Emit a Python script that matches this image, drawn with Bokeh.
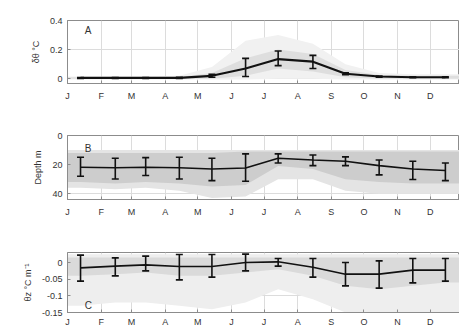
from bokeh.plotting import figure
from bokeh.models import Range1d, FixedTicker, Label
from bokeh.layouts import column
from bokeh.embed import file_html
from bokeh.resources import INLINE

# ---- data ----
month_ticks = [0, 31, 59, 90, 120, 151, 181, 212, 243, 273, 304, 334]
month_labels = ["J", "F", "M", "A", "M", "J", "J", "A", "S", "O", "N", "D"]
mid_days = [12, 44, 72, 103, 133, 164, 194, 226, 256, 287, 318, 348]
year_end = 361

# Panel A: dtheta (degC)
a_mean = [0.005, 0.005, 0.005, 0.006, 0.02, 0.07, 0.135, 0.117, 0.034, 0.015, 0.01, 0.01]
a_lo = [0.002, 0.002, 0.002, 0.002, 0.01, 0.015, 0.09, 0.07, 0.027, 0.011, 0.007, 0.007]
a_hi = [0.008, 0.008, 0.008, 0.01, 0.03, 0.14, 0.19, 0.16, 0.041, 0.019, 0.013, 0.013]
a_out_lo = [-0.005, -0.005, -0.005, -0.005, -0.005, -0.005, 0.0, 0.0, -0.005, -0.005, -0.005, -0.005]
a_out_hi = [0.015, 0.015, 0.015, 0.02, 0.08, 0.26, 0.30, 0.24, 0.10, 0.04, 0.03, 0.03]
a_in_lo = [0.0, 0.0, 0.0, 0.0, 0.0, 0.02, 0.07, 0.05, 0.01, 0.0, 0.0, 0.0]
a_in_hi = [0.01, 0.01, 0.01, 0.012, 0.04, 0.14, 0.20, 0.17, 0.06, 0.025, 0.02, 0.02]

# Panel B: depth (m)
b_mean = [21.8, 22.2, 21.8, 22.2, 23.0, 22.3, 15.6, 16.8, 17.7, 20.7, 23.0, 24.1]
b_lo = [15.0, 15.6, 15.2, 15.0, 15.6, 12.6, 12.6, 13.4, 14.7, 16.8, 17.7, 18.9]
b_hi = [28.0, 29.9, 27.5, 29.9, 31.0, 31.5, 18.9, 20.7, 20.7, 27.1, 30.3, 31.0]
b_out_lo = [10, 10, 10, 10, 10, 10, 10, 10, 10, 10, 10, 10]
b_out_hi = [36, 37, 36, 38, 43, 42, 30, 30, 38, 40, 40, 40]
b_in_lo = [12, 12, 12, 12, 12, 11, 11, 11, 11, 11, 11, 11]
b_in_hi = [32, 33, 32, 33, 35, 34, 21, 23, 30, 32, 33, 33]

# Panel C: theta_z (degC/m)
c_mean = [-0.016, -0.011, -0.007, -0.012, -0.012, 0.0, 0.002, -0.014, -0.035, -0.035, -0.023, -0.023]
c_lo = [-0.056, -0.04, -0.025, -0.052, -0.044, -0.025, -0.011, -0.044, -0.07, -0.077, -0.061, -0.056]
c_hi = [0.022, 0.014, 0.019, 0.024, 0.024, 0.025, 0.012, 0.012, 0.0, 0.005, 0.012, 0.012]
c_out_lo = [-0.13, -0.12, -0.12, -0.13, -0.14, -0.12, -0.08, -0.11, -0.15, -0.15, -0.15, -0.15]
c_out_hi = [0.025] * 12
c_in_lo = [-0.04, -0.035, -0.03, -0.04, -0.04, -0.03, -0.02, -0.04, -0.07, -0.08, -0.07, -0.06]
c_in_hi = [0.015] * 12

FONT = "Liberation Sans"
TXT = "#333333"
INK = "#111111"


def ext(vals):
    return [vals[0]] + list(vals) + [vals[-1]]


band_x = [0] + mid_days + [year_end]


def panel(height, btop, bbot, yr, yticks, ylabels, ylabel, letter, letter_y,
          mean, lo, hi, bands, lw, xstandoff=7):
    p = figure(width=459, height=height, x_range=Range1d(0, year_end), y_range=yr,
               output_backend="svg", toolbar_location=None,
               min_border_left=67, min_border_right=0,
               min_border_top=btop, min_border_bottom=bbot)
    p.background_fill_color = "white"
    p.outline_line_color = "#8c8c8c"
    for (l, u, col) in bands:
        p.varea(x=band_x, y1=ext(l), y2=ext(u), fill_color=col, fill_alpha=1.0)
    p.line(mid_days, mean, line_color=INK, line_width=lw)
    p.segment(x0=mid_days, y0=lo, x1=mid_days, y1=hi, line_color=INK, line_width=1.6)
    p.scatter(x=mid_days + mid_days, y=list(lo) + list(hi), marker="dash", size=7,
              line_color=INK, line_width=1.6)
    p.xaxis.ticker = FixedTicker(ticks=month_ticks)
    p.xaxis.major_label_overrides = {t: s for t, s in zip(month_ticks, month_labels)}
    p.yaxis.ticker = FixedTicker(ticks=yticks)
    p.yaxis.major_label_overrides = {t: s for t, s in zip(yticks, ylabels)}
    for ax in (p.xaxis[0], p.yaxis[0]):
        ax.axis_line_color = "#8c8c8c"
        ax.major_tick_line_color = "#8c8c8c"
        ax.major_tick_in = 3
        ax.major_tick_out = 0
        ax.minor_tick_line_color = None
        ax.major_label_text_font = FONT
        ax.major_label_text_font_size = "9px"
        ax.major_label_text_color = TXT
    p.xaxis.major_label_standoff = xstandoff
    p.yaxis.major_label_standoff = 5
    p.yaxis.axis_label = ylabel
    p.yaxis.axis_label_text_font = FONT
    p.yaxis.axis_label_text_font_size = "9px"
    p.yaxis.axis_label_text_font_style = "normal"
    p.yaxis.axis_label_text_color = TXT
    p.yaxis.axis_label_standoff = 6
    p.xgrid.ticker = FixedTicker(ticks=month_ticks)
    p.ygrid.ticker = FixedTicker(ticks=yticks)
    p.grid.grid_line_color = "#dcdcdc"
    p.grid.grid_line_width = 1
    p.add_layout(Label(x=16, y=letter_y, text=letter, text_font=FONT,
                       text_font_size="10px", text_color=TXT,
                       text_baseline="middle", text_align="left"))
    return p


pa = panel(125, 20, 42, Range1d(-0.033, 0.4), [0, 0.2, 0.4], ["0", "0.2", "0.4"],
           "δθ °C", "A", 0.33, a_mean, a_lo, a_hi,
           [(a_out_lo, a_out_hi, "#f1f1f1"), (a_in_lo, a_in_hi, "#dedede")], 2.2)
pb = panel(115, 10, 41, Range1d(44, 0), [0, 20, 40], ["0", "20", "40"],
           "Depth m", "B", 9, b_mean, b_lo, b_hi,
           [(b_out_lo, b_out_hi, "#e4e4e4"), (b_in_lo, b_in_hi, "#cdcdcd")], 1.6)
pc = panel(89, 12, 15, Range1d(-0.15, 0.03), [0, -0.05, -0.1, -0.15],
           ["0", "-0.05", "-0.1", "-0.15"],
           "θz °C m⁻¹", "C", -0.128, c_mean, c_lo, c_hi,
           [(c_out_lo, c_out_hi, "#eeeeee"), (c_in_lo, c_in_hi, "#dadada")], 1.6,
           xstandoff=4)
pc.xaxis.major_label_text_line_height = 0.7

layout = column(pa, pb, pc, spacing=0)
open("out.html", "w").write(file_html(layout, INLINE))
